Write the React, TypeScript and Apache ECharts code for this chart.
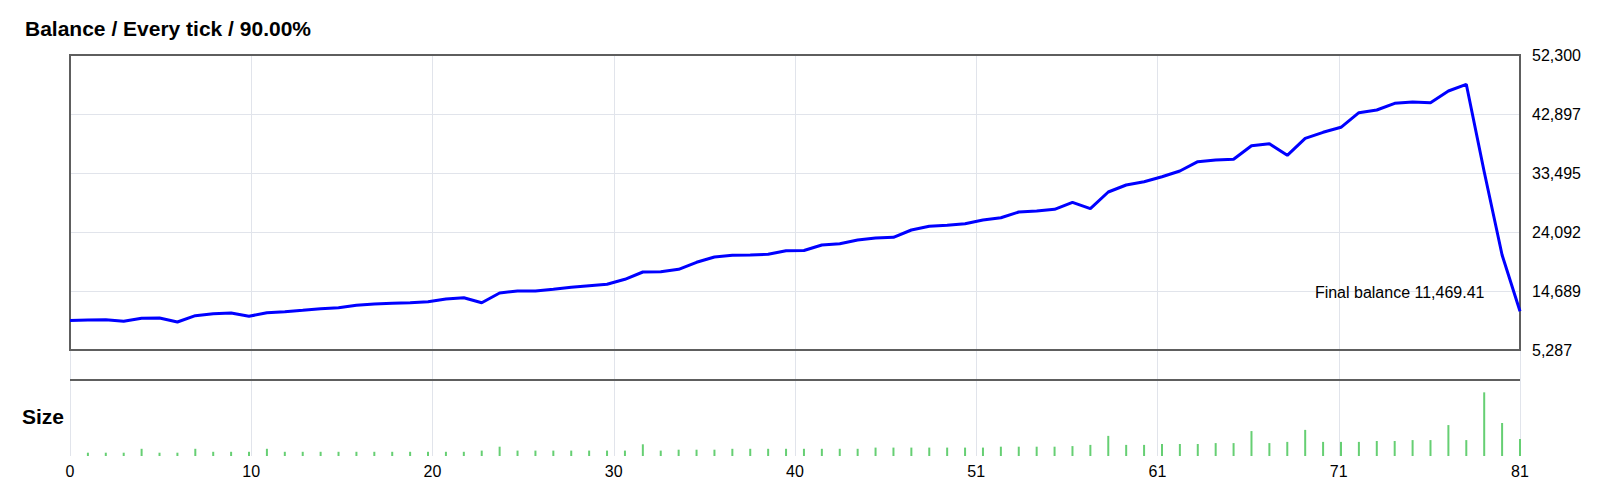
import React, { useEffect, useRef } from "react";
import * as echarts from "echarts";

const titleText = "Balance / Every tick / 90.00%";
const sizeTitle = "Size";
const finalLabel = "Final balance 11,469.41";

const balance = [
  10000, 10068, 10116, 9861, 10339, 10387, 9749, 10753, 11072, 11184,
  10658, 11231, 11391, 11614, 11869, 12028, 12411, 12618, 12730, 12825,
  12984, 13415, 13622, 12825, 14371, 14690, 14690, 14960, 15279, 15534,
  15757, 16554, 17718, 17765, 18148, 19263, 20108, 20379, 20427, 20538,
  21112, 21150, 22020, 22228, 22817, 23136, 23248, 24411, 25001, 25160,
  25415, 26005, 26371, 27280, 27439, 27710, 28826, 27805, 30467, 31582,
  32108, 32905, 33814, 35296, 35567, 35678, 37846, 38164, 36316, 39025,
  39981, 40778, 43105, 43535, 44603, 44810, 44698, 46563, 47631, 33702,
  20427, 11469.41,
];

const sizes = [
  0, 0.11, 0.11, 0.11, 0.24, 0.11, 0.11, 0.24, 0.14, 0.14,
  0.14, 0.24, 0.14, 0.14, 0.14, 0.14, 0.14, 0.14, 0.14, 0.14,
  0.14, 0.14, 0.14, 0.18, 0.31, 0.18, 0.18, 0.18, 0.18, 0.18,
  0.18, 0.18, 0.39, 0.18, 0.21, 0.21, 0.21, 0.24, 0.24, 0.24,
  0.24, 0.24, 0.24, 0.24, 0.24, 0.28, 0.28, 0.28, 0.28, 0.28,
  0.28, 0.28, 0.31, 0.31, 0.31, 0.31, 0.33, 0.37, 0.67, 0.37,
  0.37, 0.4, 0.4, 0.4, 0.43, 0.43, 0.83, 0.43, 0.47, 0.87,
  0.47, 0.47, 0.47, 0.5, 0.5, 0.53, 0.53, 1.03, 0.53, 2.12,
  1.1, 0.57,
];

const xTickLabels = ["0", "10", "20", "30", "40", "51", "61", "71", "81"];
const yTickLabels = ["5,287", "14,689", "24,092", "33,495", "42,897", "52,300"];

const yMin = 5286.6;
const yMax = 52300;
const xMax = 81;
const sizeAxisMax = 3.53;
const sizePanelTop = 2.53;

const FONT = "Arial, 'Liberation Sans', sans-serif";
const GRID_COLOR = "#e1e4eb";
const BORDER_COLOR = "#5e5e5e";

export default function App() {
  const ref = useRef<HTMLDivElement>(null);

  useEffect(() => {
    if (!ref.current) return;
    const chart = echarts.init(ref.current, undefined, { renderer: "svg" });
    const xInterval = xMax / (xTickLabels.length - 1);
    const yInterval = (yMax - yMin) / (yTickLabels.length - 1);
    const lineData = balance.map((v, i) => [i, v - yMin]);
    const barData = sizes.map((s, i) => [i, s]);
    const last = balance.length - 1;

    const option: any = {
      animation: false,
      backgroundColor: "#ffffff",
      textStyle: { fontFamily: FONT },
      title: [
        {
          text: titleText,
          left: 25,
          top: 18,
          padding: 0,
          textStyle: { fontSize: 21, fontWeight: "bold", color: "#000", fontFamily: FONT },
        },
        {
          text: sizeTitle,
          left: 22,
          top: 406,
          padding: 0,
          textStyle: { fontSize: 21, fontWeight: "bold", color: "#000", fontFamily: FONT },
        },
      ],
      grid: [
        {
          left: 70,
          top: 55,
          width: 1450,
          height: 295,
          show: true,
          borderColor: BORDER_COLOR,
          borderWidth: 2,
          backgroundColor: "transparent",
          z: 3,
        },
        { left: 70, top: 350, width: 1450, height: 106, show: false },
      ],
      xAxis: [
        {
          type: "value",
          gridIndex: 0,
          min: 0,
          max: xMax,
          interval: xInterval,
          axisLabel: { show: false },
          axisLine: { show: false },
          axisTick: { show: false },
          splitLine: {
            show: true,
            showMinLine: false,
            showMaxLine: false,
            lineStyle: { color: GRID_COLOR, width: 1 },
          },
        },
        {
          type: "value",
          gridIndex: 1,
          min: 0,
          max: xMax,
          interval: xInterval,
          axisLabel: {
            show: true,
            fontSize: 16,
            color: "#000",
            margin: 7,
            fontFamily: FONT,
            formatter: (v: number) => xTickLabels[Math.round(v / xInterval)] ?? "",
          },
          axisLine: { show: false },
          axisTick: { show: false },
          splitLine: { show: true, lineStyle: { color: GRID_COLOR, width: 1 } },
        },
      ],
      yAxis: [
        {
          type: "value",
          gridIndex: 0,
          position: "right",
          min: 0,
          max: yMax - yMin,
          interval: yInterval,
          axisLabel: {
            fontSize: 16,
            color: "#000",
            margin: 12,
            fontFamily: FONT,
            formatter: (v: number) => yTickLabels[Math.round(v / yInterval)] ?? "",
          },
          axisLine: { show: false },
          axisTick: { show: false },
          splitLine: {
            show: true,
            showMinLine: false,
            showMaxLine: false,
            lineStyle: { color: GRID_COLOR, width: 1 },
          },
        },
        {
          type: "value",
          gridIndex: 1,
          min: 0,
          max: sizeAxisMax,
          show: false,
          splitLine: { show: false },
        },
      ],
      series: [
        {
          type: "line",
          xAxisIndex: 0,
          yAxisIndex: 0,
          data: lineData,
          symbol: "none",
          showSymbol: false,
          lineStyle: { color: "#0000ff", width: 3 },
          itemStyle: { color: "#0000ff" },
          z: 5,
          markPoint: {
            silent: true,
            symbol: "circle",
            symbolSize: 1,
            itemStyle: { color: "rgba(0,0,0,0)" },
            label: {
              show: true,
              position: "left",
              distance: 35,
              offset: [0, -19],
              formatter: finalLabel,
              fontSize: 16,
              color: "#000",
              fontFamily: FONT,
            },
            data: [{ coord: [last, balance[last] - yMin] }],
          },
        },
        {
          type: "bar",
          xAxisIndex: 1,
          yAxisIndex: 1,
          data: barData,
          barWidth: 2,
          itemStyle: { color: "#66cf73" },
          markLine: {
            silent: true,
            symbol: "none",
            label: { show: false },
            lineStyle: { color: BORDER_COLOR, width: 2, type: "solid" },
            data: [{ yAxis: sizePanelTop }],
          },
        },
      ],
    };

    chart.setOption(option);
    return () => chart.dispose();
  }, []);

  return (
    <div
      ref={ref}
      style={{ position: "fixed", left: 0, top: 0, width: 1600, height: 500, background: "#fff" }}
    />
  );
}
